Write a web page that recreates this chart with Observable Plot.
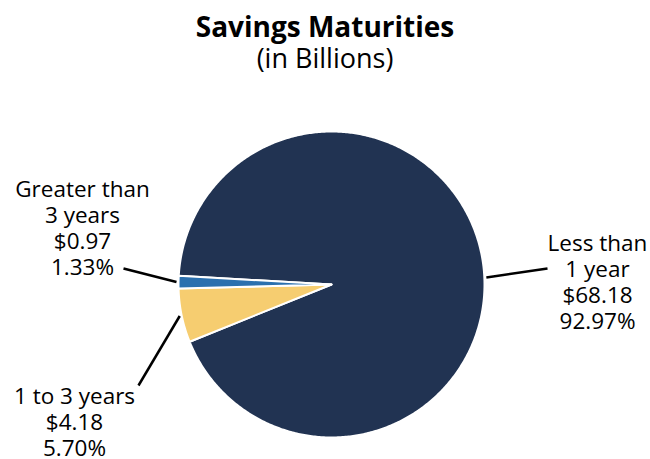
<!DOCTYPE html>
<html>
<head>
<meta charset="utf-8">
<script src="https://cdn.jsdelivr.net/npm/d3@7"></script>
<script src="https://cdn.jsdelivr.net/npm/@observablehq/plot@0.6"></script>
<style>
  body { margin: 0; background: #fff; font-family: "Open Sans", sans-serif; }
  #title { width: 650px; height: 84px; text-align: center; color: #000; }
  #title .t { font-weight: 700; font-size: 28px; line-height: 32px; padding-top: 10px; }
  #title .s { font-size: 27px; line-height: 32px; }
</style>
</head>
<body>
<div id="title"><div class="t">Savings Maturities</div><div class="s">(in Billions)</div></div>
<div id="chart"></div>
<script>
// ---- data ----
const categories = ["Less than\n1 year", "1 to 3 years", "Greater than\n3 years"];
const amounts = [68.18, 4.18, 0.97];
const percents = [92.97, 5.70, 1.33];
const colors = ["#213352", "#f6cd70", "#2b70ae"];

// ---- layout (pixels, page coordinates) ----
const W = 650, H = 459, titleH = 84;
const cx = 331, cy = 284, R = 153;
const startDeg = -86.7;
const labelLayout = [
  { x: 597, y: 281, leaderDeg: 87.4, outer: [547, 268] },
  { x: 74,  y: 421, leaderDeg: null, outer: [138, 385] },
  { x: 82,  y: 227, leaderDeg: null, outer: [123, 268] }
];

const rows = categories.map((c, i) => ({
  category: c, amount: amounts[i], percent: percents[i], color: colors[i]
}));
const arcs = d3.pie().value(d => d.amount).sort(null)
  .startAngle(startDeg * Math.PI / 180)
  .endAngle((startDeg + 360) * Math.PI / 180)(rows);

const pt = (a, r) => [cx + r * Math.sin(a), cy - titleH - r * Math.cos(a)];

const poly = [];
arcs.forEach((a, i) => {
  poly.push({ key: i, color: a.data.color, p: [cx, cy - titleH] });
  const n = Math.max(4, Math.ceil((a.endAngle - a.startAngle) / 0.01));
  for (let k = 0; k <= n; k++) {
    const ang = a.startAngle + (a.endAngle - a.startAngle) * k / n;
    poly.push({ key: i, color: a.data.color, p: pt(ang, R) });
  }
});

const leaders = arcs.map((a, i) => {
  const L = labelLayout[i];
  const ang = L.leaderDeg != null ? L.leaderDeg * Math.PI / 180 : (a.startAngle + a.endAngle) / 2;
  const inner = pt(ang, R + 2);
  return { x1: inner[0], y1: inner[1], x2: L.outer[0], y2: L.outer[1] - titleH };
});

const labels = rows.map((d, i) => ({
  x: labelLayout[i].x, y: labelLayout[i].y - titleH,
  text: `${d.category}\n$${d.amount.toFixed(2)}\n${d.percent.toFixed(2)}%`
}));

const SH = H - titleH;
const chart = Plot.plot({
  width: W, height: SH,
  margin: 0,
  x: { domain: [0, W], range: [0, W], axis: null },
  y: { domain: [0, SH], range: [0, SH], axis: null },
  style: { fontFamily: "'Open Sans', sans-serif", background: "#fff" },
  marks: [
    Plot.line(poly, {
      x: d => d.p[0], y: d => d.p[1], z: "key",
      fill: "color", stroke: "#fff", strokeWidth: 2, curve: "linear-closed",
      strokeLinejoin: "round"
    }),
    Plot.link(leaders, { x1: "x1", y1: "y1", x2: "x2", y2: "y2", stroke: "#000", strokeWidth: 2.5 }),
    Plot.text(labels, {
      x: "x", y: "y", text: "text", textAnchor: "middle", lineAnchor: "middle",
      fontSize: 22.5, lineHeight: 1.16, fill: "#000"
    })
  ]
});
document.getElementById("chart").append(chart);
</script>
</body>
</html>
